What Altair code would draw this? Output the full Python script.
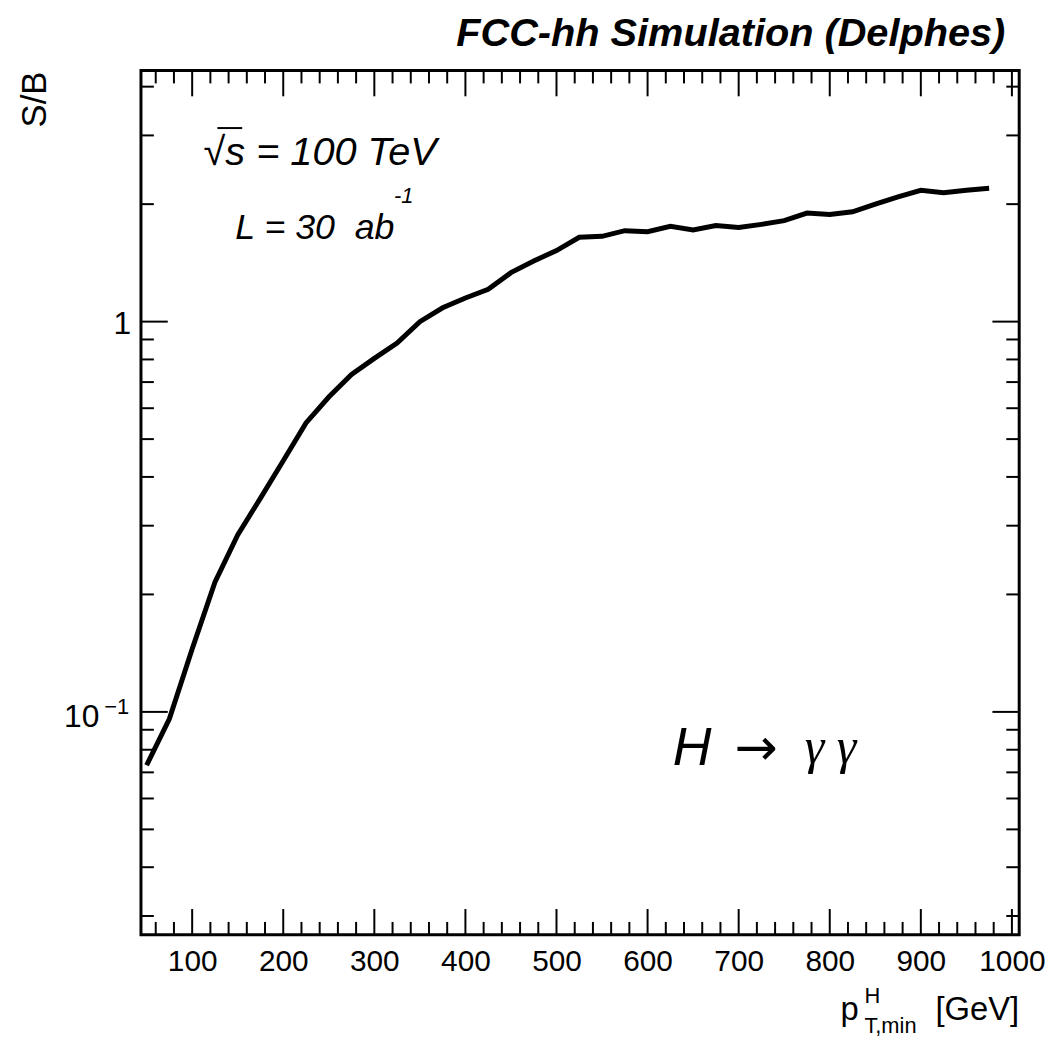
import altair as alt
import pandas as pd

# ---- data ----
PT_MIN = [50, 75, 100, 125, 150, 175, 200, 225, 250, 275, 300, 325, 350, 375,
          400, 425, 450, 475, 500, 525, 550, 575, 600, 625, 650, 675, 700, 725,
          750, 775, 800, 825, 850, 875, 900, 925, 950, 975]
S_OVER_B = [0.073, 0.096, 0.145, 0.215, 0.284, 0.353, 0.44, 0.55, 0.641, 0.732,
            0.805, 0.881, 1.0, 1.085, 1.15, 1.21, 1.335, 1.43, 1.521, 1.645,
            1.654, 1.71, 1.70, 1.754, 1.717, 1.762, 1.742, 1.775, 1.814, 1.897,
            1.882, 1.912, 2.0, 2.087, 2.17, 2.14, 2.17, 2.196]

X_MAJOR = [100, 200, 300, 400, 500, 600, 700, 800, 900, 1000]
X_MINOR = [v for v in range(60, 1001, 20) if v % 100 != 0]
Y_MAJOR = [0.1, 1.0]
Y_MINOR = [0.03, 0.04, 0.05, 0.06, 0.07, 0.08, 0.09,
           0.2, 0.3, 0.4, 0.5, 0.6, 0.7, 0.8, 0.9, 2.0, 3.0, 4.0]

W, H = 885, 871
FONT = "Liberation Sans"

df = pd.DataFrame({"pt": PT_MIN, "sb": S_OVER_B})
one = pd.DataFrame({"a": [0]})

xs = alt.Scale(domain=[43.8, 1008], nice=False, zero=False)
ys = alt.Scale(type="log", domain=[0.02684, 4.4], nice=False)
x_axis = alt.Axis(values=X_MAJOR, ticks=False, tickSize=0, domain=False, grid=False,
                  labelFontSize=30, labelFont=FONT, labelColor="black",
                  labelPadding=12, labelFlush=False, title=None, format="d")

curve = alt.Chart(df).mark_line(color="black", strokeWidth=5).encode(
    x=alt.X("pt:Q", scale=xs, axis=x_axis),
    y=alt.Y("sb:Q", scale=ys, axis=None),
)


def xticks(vals, length, top):
    d = pd.DataFrame({"pt": vals})
    return alt.Chart(d).mark_rule(color="black", strokeWidth=2).encode(
        x=alt.X("pt:Q", scale=xs, axis=x_axis),
        y=alt.value(0 if top else H),
        y2=alt.value(length if top else H - length),
    )


def yticks(vals, length, right):
    d = pd.DataFrame({"sb": vals})
    return alt.Chart(d).mark_rule(color="black", strokeWidth=2).encode(
        y=alt.Y("sb:Q", scale=ys, axis=None),
        x=alt.value(W if right else 0),
        x2=alt.value(W - length if right else length),
    )


def txt(text, x, y, size, align="left", baseline="alphabetic", style="normal",
        weight="normal", font=FONT, angle=0):
    kw = dict(text=text, fontSize=size, align=align, baseline=baseline,
              fontStyle=style, fontWeight=weight, font=font, color="black")
    if angle:
        kw["angle"] = angle
    return alt.Chart(one).mark_text(**kw).encode(x=alt.value(x), y=alt.value(y))


def ylabel(v, text, dx, size, dy):
    d = pd.DataFrame({"sb": [v]})
    return alt.Chart(d).mark_text(text=text, fontSize=size, font=FONT, align="right",
                                  baseline="middle", color="black", dy=dy).encode(
        y=alt.Y("sb:Q", scale=ys, axis=None), x=alt.value(dx))


overline = alt.Chart(one).mark_rule(color="black", strokeWidth=2).encode(
    x=alt.value(77), x2=alt.value(102), y=alt.value(58))

layers = [
    curve,
    xticks(X_MAJOR, 26, False), xticks(X_MINOR, 13, False),
    xticks(X_MAJOR, 26, True), xticks(X_MINOR, 13, True),
    yticks(Y_MAJOR, 27, False), yticks(Y_MINOR, 13, False),
    yticks(Y_MAJOR, 27, True), yticks(Y_MINOR, 13, True),
    ylabel(1.0, "1", -10, 32, 2),
    ylabel(0.1, "10", -42, 32, 5),
    ylabel(0.1, "\u22121", -12, 22, -5),
    txt("FCC-hh Simulation (Delphes)", 871, -25, 40, align="right",
        style="italic", weight="bold"),
    txt("S/B", -96, 1, 35, align="right", angle=270),
    txt("\u221as = 100 TeV", 63, 95, 40, style="italic"),
    overline,
    txt("L = 30\u00a0\u00a0ab", 95, 170, 36, style="italic"),
    txt("-1", 255, 134, 22, style="italic"),
    txt("H", 536, 700, 54, style="italic"),
    txt("\u2192", 620, 684, 52, align="center", baseline="middle", font="DejaVu Sans"),
    txt("\u03b3 \u03b3", 669, 698, 50, style="italic", font="Liberation Serif"),
    txt("p", 705, 957, 33),
    txt("H", 729, 940, 22),
    txt("T,min", 729, 970, 22),
    txt("[GeV]", 885, 957, 33, align="right"),
]

chart = alt.layer(*layers).properties(
    width=W, height=H, autosize="none",
    padding={"left": 134, "top": 59, "right": 26, "bottom": 103},
).configure(
    background="white",
    view=alt.ViewConfig(stroke="black", strokeWidth=3),
)

chart.save("out.html", embed_options={"renderer": "svg", "actions": False})
